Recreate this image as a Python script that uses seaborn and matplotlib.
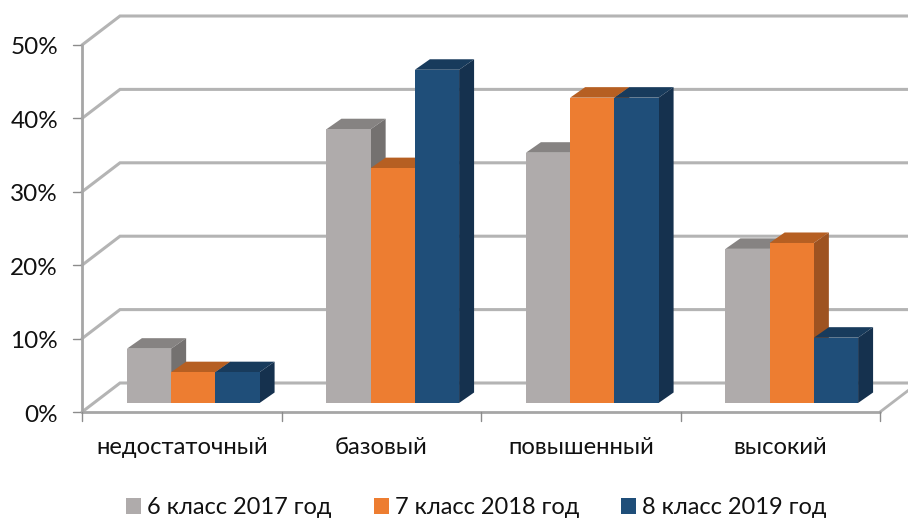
import numpy as np
import pandas as pd
import seaborn as sns
import matplotlib.pyplot as plt
from matplotlib.patches import Polygon

categories = ['недостаточный', 'базовый', 'повышенный', 'высокий']
series_names = ['6 класс 2017 год', '7 класс 2018 год', '8 класс 2019 год']
values_6 = [7.4, 37.3, 34.1, 21.0]
values_7 = [4.2, 32.0, 41.6, 21.8]
values_8 = [4.2, 45.4, 41.6, 8.9]
y_ticks = [0, 10, 20, 30, 40, 50]

front_colors = ['#AFABAB', '#ED7D31', '#1F4E79']
top_colors = ['#868382', '#B65F22', '#183B5C']
side_colors = ['#747170', '#9E5321', '#15314E']
grid_color = '#B4B4B4'

W, H = 908, 518
sns.set_theme(style='white')
plt.rcParams['font.family'] = ['Lato', 'Open Sans', 'DejaVu Sans']

df = pd.DataFrame({'cat': categories * 3,
                   'series': np.repeat(series_names, 4),
                   'val': values_6 + values_7 + values_8})

fig = plt.figure(figsize=(W / 100, H / 100), dpi=100)
# axes sits on the plane of the bars, walls are shifted from it in pixels
ax = fig.add_axes([93.5 / W, (H - 403) / H, 798 / W, 367 / H])
sns.barplot(data=df, x='cat', y='val', hue='series', palette=front_colors,
            width=0.665, gap=0, saturation=1, errorbar=None, ax=ax,
            linewidth=0, edgecolor='none')
ax.set_xlim(-0.5, 3.5)
ax.set_ylim(0, 50)
ax.set_xlabel('')
ax.set_ylabel('')
sns.despine(ax=ax, left=True, bottom=True)
ax.set_xticks([])
ax.set_yticks([])
ax.patch.set_alpha(0)

px_x = 798 / 4
px_y = 367 / 50


def shift(x, y, dx, dy):
    return x + dx / px_x, y - dy / px_y


# front plane and back wall, offsets in pixels from the bar plane
fx, fy = -11.5, 9
bx, by = 26.5, -20
for v in y_ticks:
    x0, y0 = shift(-0.5, v, fx, fy)
    x1, y1 = shift(-0.5, v, bx, by)
    x2, y2 = shift(3.5, v, bx, by)
    ax.plot([x0, x1, x2], [y0, y1, y2], color=grid_color, lw=2.2, clip_on=False,
            zorder=1, solid_joinstyle='miter')
    xt, yt = shift(-0.5, v, fx - 9, fy)
    ax.plot([xt, x0], [yt, y0], color='#8C8C8C', lw=1, clip_on=False, zorder=2)
    ax.text(xt - 15 / px_x, yt - 3 / px_y, f'{v}%', ha='right', va='center',
            fontsize=17.5, color='#111111')

# left axis and front floor edge with the category ticks
x0, y0 = shift(-0.5, 0, fx, fy)
x1, y1 = shift(-0.5, 50, fx, fy)
ax.plot([x0, x1], [y0, y1], color='#A6A6A6', lw=2, clip_on=False, zorder=2)
x2, y2 = shift(3.5, 0, fx, fy)
ax.plot([x0, x2], [y0, y2], color='#A6A6A6', lw=2, clip_on=False, zorder=2)
x3, y3 = shift(3.5, 0, bx, by)
ax.plot([x2, x3], [y2, y3], color=grid_color, lw=2, clip_on=False, zorder=1)
for i in range(5):
    xt, yt = shift(i - 0.5, 0, fx, fy)
    ax.plot([xt, xt], [yt, yt - 9 / px_y], color='#8C8C8C', lw=1, clip_on=False, zorder=2)
for i, c in enumerate(categories):
    xt, yt = shift(i, 0, fx, fy + 36)
    ax.text(xt, yt, c, ha='center', va='center', fontsize=17.2, color='#111111')

# top and side faces of the bars
dx, dy = 15 / px_x, 10.5 / px_y
for s, cont in enumerate(ax.containers):
    for bar in cont:
        l, r, h = bar.get_x(), bar.get_x() + bar.get_width(), bar.get_height()
        ax.add_patch(Polygon([(l, h), (r, h), (r + dx, h + dy), (l + dx, h + dy)],
                             color=top_colors[s], lw=0, clip_on=False, zorder=4 + s * 0.1))
        ax.add_patch(Polygon([(r, 0), (r + dx, dy), (r + dx, h + dy), (r, h)],
                             color=side_colors[s], lw=0, clip_on=False, zorder=4 + s * 0.1))
        bar.set_zorder(4.05 + s * 0.1)

handles, labels = ax.get_legend_handles_labels()
ax.get_legend().remove()
fig.legend(handles, labels, ncols=3, loc='center', bbox_to_anchor=(476.5 / W, 1 - 508 / H),
           frameon=False, fontsize=17, handlelength=0.635, handleheight=0.635,
           handletextpad=0.25, columnspacing=1.78, labelcolor='#111111', borderaxespad=0)

fig.savefig('out.png', dpi=100, facecolor='white')
